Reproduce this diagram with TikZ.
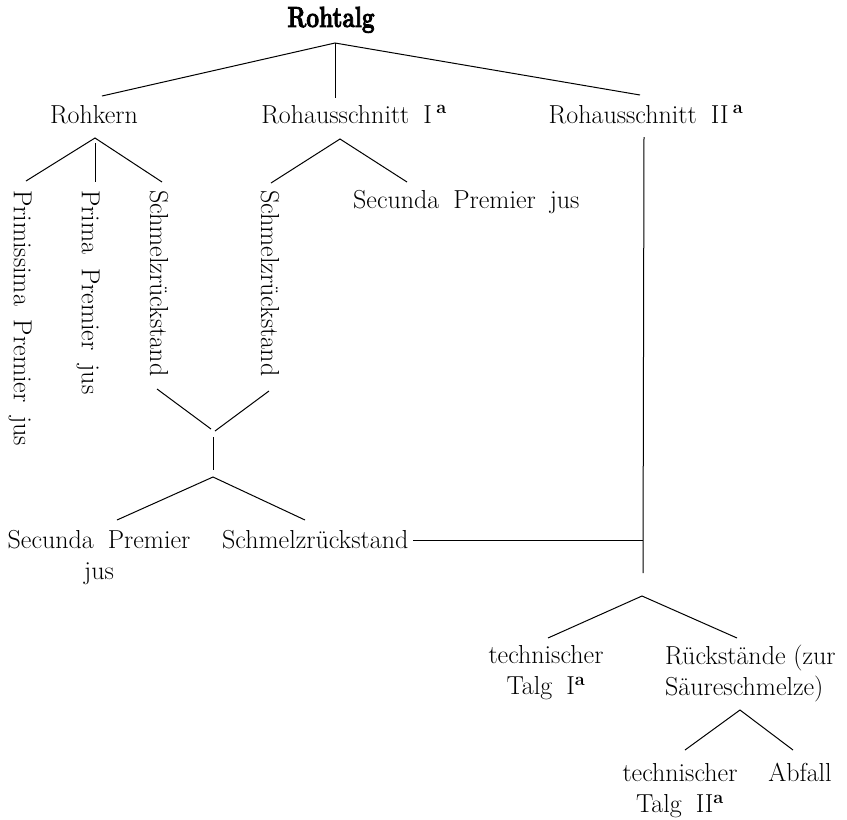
\documentclass[tikz,border=0pt]{standalone}
\usepackage{fontspec}
\newcommand{\supa}{\textsuperscript{\bfseries a}}
\newcommand{\lblfont}{\fontsize{26}{31}\selectfont\setlength{\spaceskip}{14pt plus 3pt minus 3pt}}
\newcommand{\rootfont}{\fontsize{29}{32}\selectfont\bfseries}
\newcommand{\heavy}[1]{\special{pdf:literal 2 Tr 0.9 w}#1\special{pdf:literal 0 Tr}}
\begin{document}
\begin{tikzpicture}[x=1pt,y=-1pt,
  lbl/.style={inner sep=0pt,font=\lblfont},
  vlbl/.style={lbl,rotate=-90,anchor=west},
  conn/.style={line width=1pt}]
\useasboundingbox (0,0) rectangle (847,820);
% texts
\node[inner sep=0pt,anchor=base,font=\rootfont,xscale=0.78] (root) at (331,27) {\heavy{Rohtalg}};
\node[lbl,anchor=base] (rk) at (94,123) {Rohkern};
\node[lbl,anchor=base] (r1) at (354,123) {Rohausschnitt I\,\supa};
\node[lbl,anchor=base] (r2) at (646,123) {Rohausschnitt II\,\supa};
\node[vlbl] (pp) at (20,190) {Primissima Premier jus};
\node[vlbl] (pr) at (88,190) {Prima Premier jus};
\node[vlbl] (s1) at (159,190) {Schmelzrückstand};
\node[vlbl] (s2) at (270,190) {Schmelzrückstand};
\node[lbl,anchor=base west] (sp1) at (353,208) {Secunda Premier jus};
\node[lbl,anchor=north,align=center] (sp2) at (99,530) {Secunda Premier\\jus};
\node[lbl,anchor=base west] (s3) at (222,548) {Schmelzrückstand};
\node[lbl,anchor=north,align=center] (t1) at (546,645) {technischer\\Talg I\supa};
\node[lbl,anchor=north west,align=left,font=\fontsize{26}{31}\selectfont] (rs) at (665,645) {Rückstände (zur\\Säureschmelze)};
\node[lbl,anchor=north,align=center] (t2) at (680,763) {technischer\\Talg II\supa};
\node[lbl,anchor=base] (ab) at (800,781) {Abfall};
% connector points
\coordinate (a0) at (335,43);
\coordinate (a0l) at (102,96);
\coordinate (a0m) at (335,98);
\coordinate (a0r) at (640,95);
\coordinate (a1) at (95,138);
\coordinate (a1m) at (95,143);
\coordinate (a1l) at (26,181);
\coordinate (a1v) at (95,182);
\coordinate (a1r) at (162,182);
\coordinate (a2) at (340,139);
\coordinate (a2l) at (271,183);
\coordinate (a2r) at (407,182);
\coordinate (m1) at (157,389);
\coordinate (m1e) at (211,429);
\coordinate (m2) at (269,391);
\coordinate (m2e) at (215,431);
\coordinate (mv1) at (213,437);
\coordinate (mv2) at (213,470);
\coordinate (a3) at (213,477);
\coordinate (a3l) at (117,520);
\coordinate (a3r) at (305,520);
\coordinate (v1) at (644,137);
\coordinate (v2) at (643,573);
\coordinate (h1) at (413,540);
\coordinate (h2) at (643,540);
\coordinate (a4) at (642,596);
\coordinate (a4l) at (548,638);
\coordinate (a4r) at (737,638);
\coordinate (a5) at (740,710);
\coordinate (a5l) at (685,750);
\coordinate (a5r) at (793,750);
% connectors
\draw[conn] (a0l) -- (a0) -- (a0r);
\draw[conn] (a0) -- (a0m);
\draw[conn] (a1l) -- (a1) -- (a1r);
\draw[conn] (a1m) -- (a1v);
\draw[conn] (a2l) -- (a2) -- (a2r);
\draw[conn] (m1) -- (m1e);
\draw[conn] (m2) -- (m2e);
\draw[conn] (mv1) -- (mv2);
\draw[conn] (a3l) -- (a3) -- (a3r);
\draw[conn] (v1) -- (v2);
\draw[conn] (h1) -- (h2);
\draw[conn] (a4l) -- (a4) -- (a4r);
\draw[conn] (a5l) -- (a5) -- (a5r);
\end{tikzpicture}
\end{document}
